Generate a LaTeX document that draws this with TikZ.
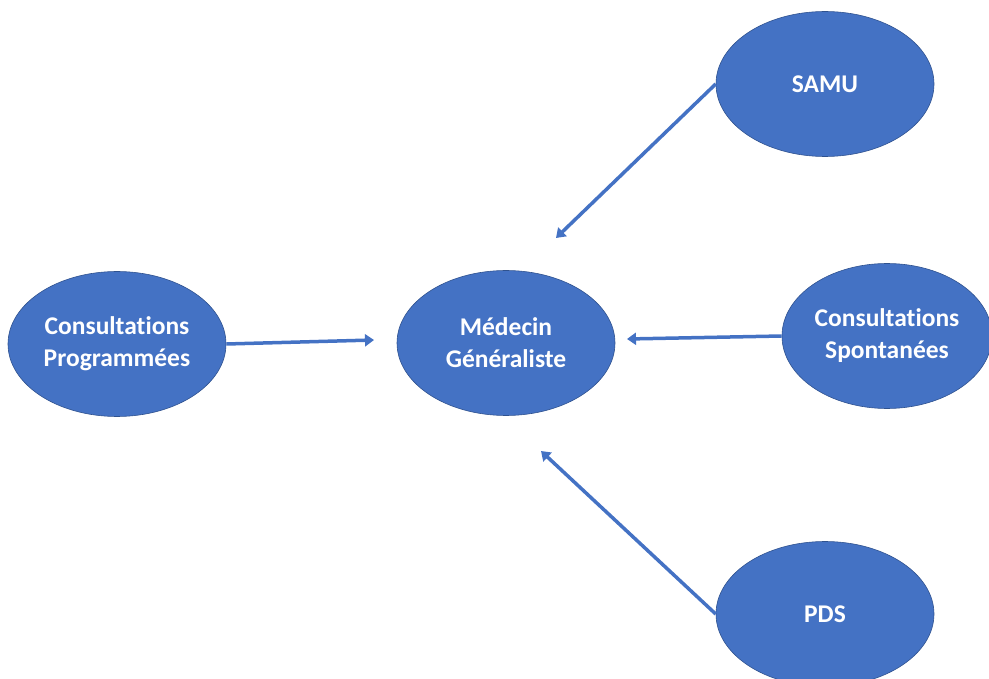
\documentclass[tikz,border=0pt]{standalone}
\usepackage{fontspec}
\setmainfont{Carlito}[Ligatures=NoCommon]
\usepackage{tikz}
\usetikzlibrary{positioning}
\usetikzlibrary{shapes.geometric}
\usetikzlibrary{arrows.meta}
\definecolor{officeblue}{RGB}{68,114,196}
\definecolor{officeedge}{RGB}{47,82,143}

\begin{document}
\begin{tikzpicture}[x=1pt, y=-1pt,
		bubble/.style={
			ellipse,
			fill=officeblue,
			draw=officeedge,
			line width=0.6pt,
			minimum width=218pt,
			minimum height=145pt,
			inner sep=0pt,
			align=center,
			text=white,
			font=\fontsize{25.5}{32}\selectfont\bfseries
		},
		flow/.style={
			draw=officeblue,
			line width=3.5pt,
			-{Triangle[length=9pt, width=12pt]}
		}]
		\useasboundingbox (0,0) rectangle (989,679);
		
		\node[bubble] (prog) at (117,344) {Consultations\\Programmées};
		\node[bubble] (med) at (506,343) {Médecin\\Généraliste};
		\node[bubble] (samu) at (825,84) {SAMU};
		\node[bubble, minimum width=210pt] (spont) at (887,336) {Consultations\\Spontanées};
		\node[bubble] (pds) at (825,614) {PDS};
		
		% free ends of the arrows
		\coordinate (progTip) at (374,340);
		\coordinate (samuTip) at (556,238);
		\coordinate (spontTip) at (627,339);
		\coordinate (pdsTip) at (541,451);
		
		\draw[flow] (prog.east) -- (progTip);
		\draw[flow] (samu.west) -- (samuTip);
		\draw[flow] (spont.west) -- (spontTip);
		\draw[flow] (pds.west) -- (pdsTip);
	\end{tikzpicture}
\end{document}
